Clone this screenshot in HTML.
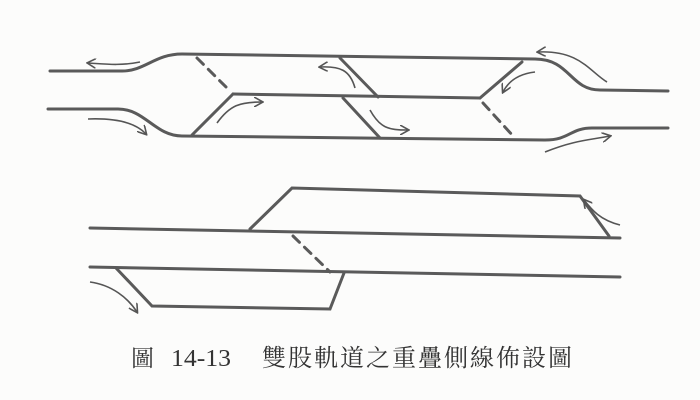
<!DOCTYPE html>
<html><head><meta charset="utf-8"><style>
html,body{margin:0;padding:0;background:#fcfcfb;}
svg{display:block}
</style></head><body>
<svg width="700" height="400" viewBox="0 0 700 400" xmlns="http://www.w3.org/2000/svg">
<defs>
<marker id="ah" markerWidth="10" markerHeight="10" refX="8" refY="5" orient="auto" markerUnits="userSpaceOnUse">
<path d="M0,0 L9,5 L0,10" fill="none" stroke="#555" stroke-width="1.6"/>
</marker>
</defs>
<g fill="none" stroke="#5a5a5a" stroke-width="3" stroke-linecap="round">
<path d="M50,71 L122,71 C145,71 155,54 182,54 L535,59 C570,59 570,90 600,90 L668,91"/>
<path d="M48,109 L118,109 C145,109 155,136 182,136 L545,140 C570,140 570,128 592,128 L668,128"/>
<path d="M233,94 L480,98"/>
<path d="M192,135 L233,94"/>
<path d="M340,58 L378,97"/>
<path d="M343,98 L380,138"/>
<path d="M480,98 L522,62"/>
<path d="M197,58 L229,90" stroke-dasharray="9,7"/>
<path d="M483,103 L514,137" stroke-dasharray="9,7"/>
<path d="M90,228 L620,238"/>
<path d="M90,267 L620,277"/>
<path d="M250,229 L292,188 L580,196 L609,236"/>
<path d="M116,268 L152,306 L330,309 L344,273"/>
<path d="M293,236 L330,272" stroke-dasharray="9,7"/>
</g>
<g fill="none" stroke="#555" stroke-width="1.6">
<path d="M140,62 C120,66 105,64 88,63" marker-end="url(#ah)"/>
<path d="M88,119 C115,118 135,122 146,134" marker-end="url(#ah)"/>
<path d="M217,123 C230,105 240,102 262,102" marker-end="url(#ah)"/>
<path d="M355,88 C350,70 340,66 320,67" marker-end="url(#ah)"/>
<path d="M370,110 C380,128 388,130 408,130" marker-end="url(#ah)"/>
<path d="M535,72 C518,74 508,82 503,92" marker-end="url(#ah)"/>
<path d="M607,82 C590,72 580,50 538,52" marker-end="url(#ah)"/>
<path d="M545,152 C575,140 590,140 610,136" marker-end="url(#ah)"/>
<path d="M620,225 C600,220 592,210 584,200" marker-end="url(#ah)"/>
<path d="M90,282 C112,285 128,298 137,312" marker-end="url(#ah)"/>
</g>
<text x="131" y="366" font-family="'Liberation Serif','Noto Serif CJK SC',serif" font-size="23" fill="#333">圖</text>
<text x="171" y="366" font-family="'Liberation Serif','Noto Serif CJK SC',serif" font-size="24" textLength="60" lengthAdjust="spacingAndGlyphs" fill="#333">14-13</text>
<text x="262" y="366" font-family="'Liberation Serif','Noto Serif CJK SC',serif" font-size="24" textLength="310" fill="#333">雙股軌道之重疊側線佈設圖</text>
</svg>
</body></html>
